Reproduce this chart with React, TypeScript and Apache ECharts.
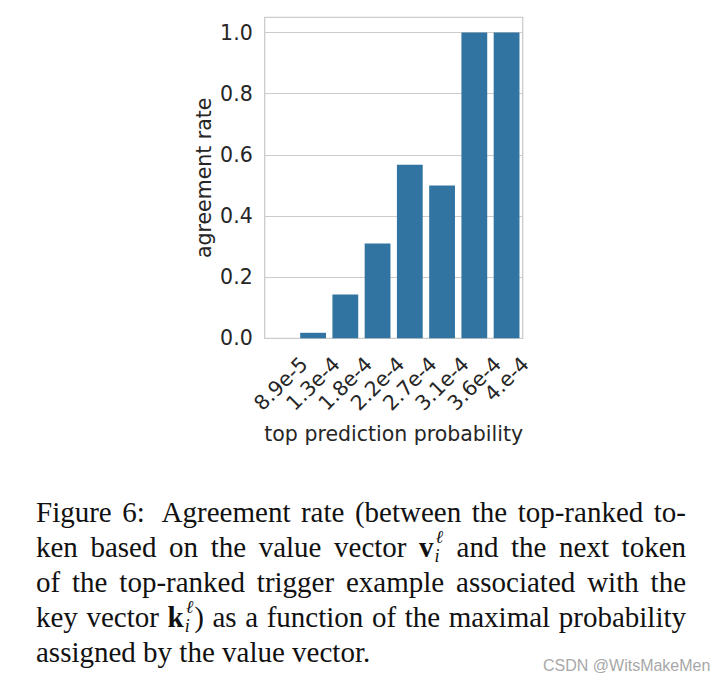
import React, { useEffect, useRef } from "react";
import * as echarts from "echarts";

const CATEGORIES = ["8.9e-5", "1.3e-4", "1.8e-4", "2.2e-4", "2.7e-4", "3.1e-4", "3.6e-4", "4.e-4"];
const AGREEMENT = [0, 0.018, 0.143, 0.31, 0.568, 0.5, 1.0, 1.0];
const Y_MIN = 0;
const Y_MAX = 1.05;
const Y_INTERVAL = 0.2;
const X_NAME = "top prediction probability";
const Y_NAME = "agreement rate";
const CAPTION_LINES = [
  "Figure 6: Agreement rate (between the top-ranked to-",
  "ken based on the value vector {v} and the next token",
  "of the top-ranked trigger example associated with the",
  "key vector {k}) as a function of the maximal probability",
  "assigned by the value vector.",
];
const WATERMARK = "CSDN @WitsMakeMen";

const SANS = '"DejaVu Sans"';
const SERIF = '"Liberation Serif", "Times New Roman", serif';
const TEXT_COLOR = "#262626";
const BAR_COLOR = "#3274a1";
const GRID_COLOR = "#cccccc";
const TICK_SIZE = 20.5;

let ctx: CanvasRenderingContext2D | null = null;
function measure(font: string, text: string): number {
  if (!ctx) ctx = document.createElement("canvas").getContext("2d");
  if (!ctx) return text.length * 10;
  ctx.font = font;
  return ctx.measureText(text).width;
}

type FontSpec = { size: number; weight?: string; style?: string; family: string };
function fontStr(f: FontSpec) {
  return `${f.style || "normal"} ${f.weight || "normal"} ${f.size}px ${f.family}`;
}
type Piece = { t: string; f: FontSpec; dx: number; dy: number };

const CAP_SIZE = 29;
const capF: FontSpec = { size: CAP_SIZE, family: SERIF };
const capBold: FontSpec = { size: CAP_SIZE, weight: "bold", family: SERIF };
const capSmall: FontSpec = { size: 18, style: "italic", family: SERIF };

function buildWord(word: string): { pieces: Piece[]; width: number } {
  const pieces: Piece[] = [];
  let x = 0;
  const re = /\{(v|k)\}/;
  const m = word.match(re);
  const pushPlain = (s: string) => {
    if (!s) return;
    pieces.push({ t: s, f: capF, dx: x, dy: 0 });
    x += measure(fontStr(capF), s);
  };
  if (!m) {
    pushPlain(word);
    return { pieces, width: x };
  }
  const idx = m.index || 0;
  pushPlain(word.slice(0, idx));
  pieces.push({ t: m[1], f: capBold, dx: x, dy: 0 });
  x += measure(fontStr(capBold), m[1]) + 1;
  const wl = measure(fontStr(capSmall), "ℓ");
  const wi = measure(fontStr(capSmall), "i");
  pieces.push({ t: "ℓ", f: capSmall, dx: x + 1, dy: -13.5 });
  pieces.push({ t: "i", f: capSmall, dx: x, dy: 5 });
  x += Math.max(wl + 1, wi) + 1;
  pushPlain(word.slice(idx + m[0].length));
  return { pieces, width: x };
}

function buildCaption(): any[] {
  const out: any[] = [];
  const left = 36;
  const right = 686;
  const base0 = 522;
  const lineGap = 35;
  const spaceW = measure(fontStr(capF), " ");
  CAPTION_LINES.forEach((line, li) => {
    const words = line.split(" ").map(buildWord);
    const total = words.reduce((s, w) => s + w.width, 0);
    const weights = line.split(" ").slice(0, -1).map((w) => (w.endsWith(":") ? 1.6 : 1));
    const wsum = weights.reduce((a, b) => a + b, 0);
    const justify = li < CAPTION_LINES.length - 1;
    const unit = justify ? (right - left - total) / wsum : spaceW;
    const baseline = base0 + li * lineGap;
    let x = left;
    words.forEach((w, wi) => {
      w.pieces.forEach((p) => {
        out.push({
          type: "text",
          x: x + p.dx,
          y: baseline + p.dy - 0.34 * p.f.size,
          silent: true,
          style: {
            text: p.t,
            fill: "#111111",
            fontSize: p.f.size,
            fontFamily: p.f.family,
            fontWeight: p.f.weight || "normal",
            fontStyle: p.f.style || "normal",
            align: "left",
            verticalAlign: "middle",
          },
        });
      });
      x += w.width + (wi < weights.length ? weights[wi] * unit : 0);
    });
  });
  return out;
}

export default function App() {
  const ref = useRef<HTMLDivElement>(null);
  useEffect(() => {
    if (!ref.current) return;
    const chart = echarts.init(ref.current, null, { renderer: "svg" });
    chart.setOption({
      animation: false,
      backgroundColor: "#ffffff",
      grid: {
        left: 264.7,
        right: 203.3,
        top: 17.3,
        bottom: 345.7,
        show: true,
        borderColor: GRID_COLOR,
        borderWidth: 1.3,
        backgroundColor: "transparent",
      },
      xAxis: {
        type: "category",
        data: CATEGORIES,
        axisLine: { show: false },
        axisTick: { show: false },
        axisLabel: { show: false },
        splitLine: { show: false },
        name: X_NAME,
        nameLocation: "middle",
        nameGap: 85,
        nameTextStyle: { fontSize: TICK_SIZE, fontFamily: SANS, color: TEXT_COLOR },
      },
      yAxis: {
        type: "value",
        min: Y_MIN,
        max: Y_MAX,
        interval: Y_INTERVAL,
        axisLine: { show: false },
        axisTick: { show: false },
        axisLabel: {
          margin: 12,
          fontSize: TICK_SIZE,
          fontFamily: SANS,
          color: TEXT_COLOR,
          showMaxLabel: false,
          formatter: (v: number) => v.toFixed(1),
        },
        splitLine: { lineStyle: { color: GRID_COLOR, width: 1 } },
        name: Y_NAME,
        nameLocation: "middle",
        nameRotate: 90,
        nameGap: 50,
        nameTextStyle: { fontSize: TICK_SIZE, fontFamily: SANS, color: TEXT_COLOR },
      },
      series: [
        {
          type: "bar",
          data: AGREEMENT,
          barCategoryGap: "20%",
          itemStyle: { color: BAR_COLOR },
          silent: true,
        },
      ],
    });

    const graphics: any[] = [];
    const tickFont = `${TICK_SIZE}px ${SANS}`;
    CATEGORIES.forEach((c, i) => {
      const p = chart.convertToPixel({ gridIndex: 0 }, [i, 0]) as number[];
      const w = measure(tickFont, c);
      const h = 24;
      const cy = 352 + (w + h) / (2 * Math.SQRT2);
      graphics.push({
        type: "text",
        x: p[0],
        y: cy,
        rotation: Math.PI / 4,
        silent: true,
        style: {
          text: c,
          fill: TEXT_COLOR,
          fontSize: TICK_SIZE,
          fontFamily: SANS,
          align: "center",
          verticalAlign: "middle",
        },
      });
    });
    graphics.push(...buildCaption());
    graphics.push({
      type: "text",
      x: 543,
      y: 665,
      silent: true,
      style: {
        text: WATERMARK,
        fill: "#a8a8a8",
        fontSize: 16,
        fontFamily: '"Liberation Sans", Arial, sans-serif',
        align: "left",
        verticalAlign: "middle",
      },
    });
    chart.setOption({ graphic: graphics });
    return () => chart.dispose();
  }, []);
  return (
    <div
      ref={ref}
      style={{ position: "fixed", left: 0, top: 0, width: 726, height: 684, background: "#fff" }}
    />
  );
}
